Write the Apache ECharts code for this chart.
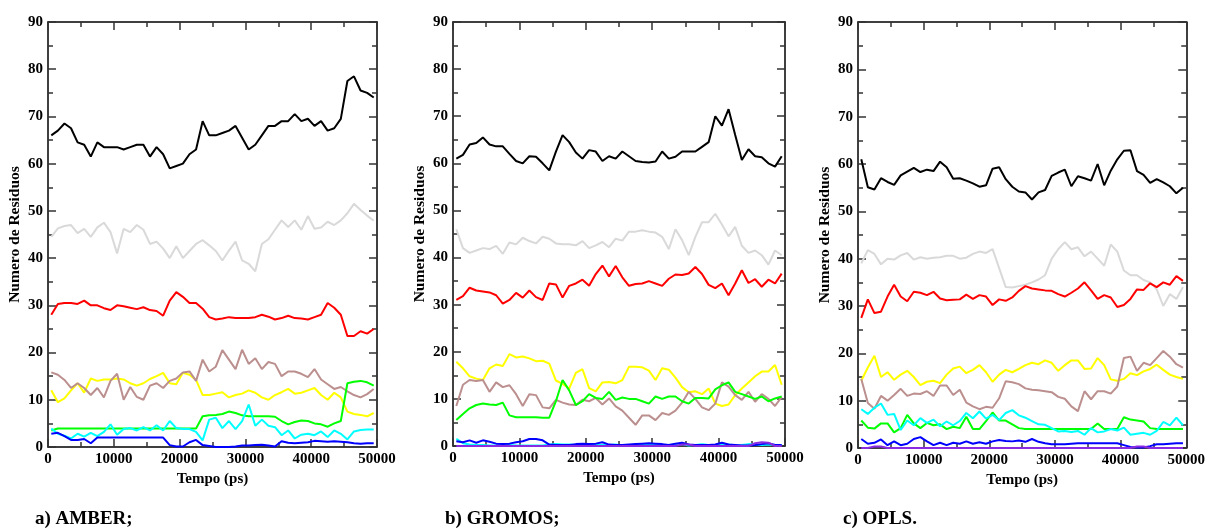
<!DOCTYPE html>
<html>
<head>
<meta charset="utf-8">
<script src="https://cdn.jsdelivr.net/npm/echarts@6/dist/echarts.min.js"></script>
<style>
html,body{margin:0;padding:0;background:#fff;}
#chart{width:1208px;height:531px;}
</style>
</head>
<body>
<div id="chart"></div>
<script>
// ---- time axis (ps) ----
const times = [500,1500,2500,3500,4500,5500,6500,7500,8500,9500,
  10500,11500,12500,13500,14500,15500,16500,17500,18500,19500,
  20500,21500,22500,23500,24500,25500,26500,27500,28500,29500,
  30500,31500,32500,33500,34500,35500,36500,37500,38500,39500,
  40500,41500,42500,43500,44500,45500,46500,47500,48500,49500];

const xTicks = [0,10000,20000,30000,40000,50000];
const yTicks = [0,10,20,30,40,50,60,70,80,90];
const panelTitles = ['a) AMBER;', 'b) GROMOS;', 'c) OPLS.'];

// ---- a) AMBER ----
const amberBlack = [66,67,68.5,67.5,64.5,64,61.5,64.5,63.5,63.5,
  63.5,63,63.5,64,64,61.5,63.5,62,59,59.5,
  60,62,63,69,66,66,66.5,67,68,65.5,
  63,64,66,68,68,69,69,70.5,69,69.5,
  68,69,67,67.5,69.5,77.5,78.5,75.5,75,74];
const amberGray = [44.5,46.3,46.8,47,45.3,46.2,44.5,46.5,47.5,45.5,
  41,46.2,45.5,47,46,43,43.5,42,40,42.5,
  40,41.5,43,43.8,42.7,41.5,39.5,41.6,43.5,39.5,
  38.8,37.2,43,44,46,48,46.6,48,46,48.9,
  46.2,46.5,47.7,47,48,49.5,51.5,50.2,49,47.9];
const amberRed = [28,30.3,30.5,30.5,30.3,31,30,30,29.4,29,
  30,29.8,29.5,29.2,29.6,29,28.8,27.8,31,32.8,
  31.8,30.5,30.5,29.3,27.5,27,27.2,27.5,27.3,27.3,
  27.3,27.5,28,27.6,27,27.3,27.8,27.3,27.2,27,
  27.5,28,30.5,29.5,28,23.5,23.5,24.5,24,25];
const amberYellow = [12,9.5,10.3,12,13.5,11.5,14.5,14,14.3,14.3,
  14.5,14.3,13.5,13,13.5,14.4,15,15.7,13.5,13.3,
  15.7,15.3,14.2,11,11,11.3,11.6,10.5,11,11.3,
  12,11.5,10.5,10,11,11.6,12.3,11.3,11.5,12,
  12.5,11,10,11.5,10.5,7.5,7,6.8,6.5,7.2];
const amberBrown = [15.8,15.3,14.2,12.5,13.5,12.5,11,12.5,10.5,14,
  15.5,10,12.7,10.6,10,13,13.5,12.5,14,14.5,
  15.8,16,14,18.5,16,17,20.5,18.5,16.5,20.6,
  17.6,18.8,16.5,18,17.6,15,16,16,15.5,14.8,
  16.5,14.3,13.3,12.3,12.7,11.8,11,10.5,11.2,12.3];
const amberGreen = [3.5,3.9,3.9,3.9,3.9,3.9,3.9,3.9,3.9,3.9,
  3.9,3.9,3.9,3.9,3.9,3.9,3.9,3.9,3.9,3.9,
  3.9,3.9,3.9,6.5,6.7,6.8,7,7.5,7.2,6.7,
  6.5,6.5,6.5,6.5,6.4,5.5,4.8,5.3,5.6,5.5,
  5,4.8,4.3,5,5.5,13.5,13.8,14,13.7,13];
const amberCyan = [3.9,2.8,2.4,1.8,2.8,2.2,3,2.3,3.2,4.8,
  2.6,3.8,4,3.5,4.2,3.5,4.6,3.5,5.5,4,
  3.8,3.8,3.2,1.4,5.8,6.2,4,5.5,3.8,5.5,
  9,4.5,5.8,4.5,4.2,2.5,3.5,1.8,2.6,2.8,
  2.5,3.3,2.1,3.5,2.8,1.6,3.3,3.6,3.7,3.7];
const amberBlue = [2.8,3,2.3,1.5,1.5,1.7,0.8,2,2,2,
  2,2,2,2,2,2,2,2,0.4,0.1,
  0.1,1,1.5,0.4,0.2,0,0,0,0.1,0.3,
  0.3,0.4,0.5,0.3,0.1,1.2,0.9,0.8,0.9,1,
  1.3,1.2,1.1,1.2,1.1,1,0.8,0.7,0.8,0.8];

// ---- b) GROMOS ----
const gromosBlack = [61,61.8,64,64.3,65.5,64,63.6,63.6,62,60.5,
  60,61.5,61.4,60,58.5,62.5,66,64.5,62.3,61,
  62.8,62.5,60.5,61.5,61,62.5,61.5,60.5,60.3,60.2,
  60.4,62.5,61,61.4,62.5,62.5,62.5,63.5,64.5,70,
  68,71.5,66,60.7,63,61.5,61.3,60,59.3,61.5];
const gromosGray = [46,42,41,41.5,42,41.8,42.5,40.8,43.2,42.8,
  44.2,43.5,43,44.4,44,43,42.8,42.8,42.6,43.5,
  42,42.6,43.3,42.2,44,43.6,45.5,45.5,45.8,45.5,
  45.3,44.4,41.8,46,43.7,40.5,44.4,47.5,47.5,49.3,
  47,44.5,46.5,42.5,41,41.5,40.5,38.5,41.5,40.5];
const gromosRed = [31,31.8,33.6,33,32.8,32.6,32,30.2,31,32.5,
  31.5,33,31.6,31,34.5,34.3,31.5,34,34.5,35.3,
  34,36.5,38.3,36,38.2,35.8,34,34.4,34.5,35,
  34.5,34,35.5,36.4,36.3,36.6,38,36.5,34.2,33.5,
  34.5,32,34.5,37.3,34.6,35.4,33.8,35.3,34.5,36.6];
const gromosYellow = [17.9,16.5,14.8,14.3,14,16.5,17.3,17,19.5,18.8,
  19,18.6,18,18.1,17.5,13.9,13.2,12.2,15.5,16.3,
  12.3,11.6,13.5,13.6,13.3,14,16.8,16.8,16.7,16,
  14,16.5,16.2,14.5,12.5,11.4,11.6,11,12.2,9,
  8.5,8.8,10.8,12.2,13.5,14.8,15.8,15.8,17.2,13];
const gromosBrown = [8.5,13,14,13.8,14,11.5,13.5,12.5,12.9,11,
  8.5,11,10.8,8.2,8,9.8,9.2,8.8,8.7,9.8,
  9.5,10.2,8.8,10.1,8.4,7.5,6,4.5,6.5,6.5,
  5.5,7,6.6,7.5,9.2,11.5,10,8.2,7.6,9,
  13.5,12.6,10.8,9.8,11.5,9.4,11,10,8.5,10.4];
const gromosGreen = [5.5,6.8,8,8.7,9,8.8,8.7,9.2,6.5,6.1,
  6.1,6.1,6.1,6,6,9.5,14,11.8,8.7,9.5,
  11,10.2,10,11.5,9.8,10.3,10,10,9.5,9,
  10.5,10,10.5,10.5,9.5,9,10.2,10.2,10.1,12,
  12.9,13.5,11.5,11,10.5,10,10.5,9.5,10.1,10.5];
const gromosCyan = [1.5,0.6,0.3,0.2,0.2,0.1,0.1,0.1,0.2,0.1,
  0.1,0.1,0.1,0.1,0.3,0.4,0.3,0.3,0.2,0.2,
  0.3,0.2,0.2,0.2,0.3,0.1,0.2,0.1,0.2,0.3,
  0.2,0.1,0.2,0.3,0.4,0.1,0.2,0.4,0.2,0.1,
  0.2,0.3,0.1,0.2,0.4,0.3,0.2,0.3,0.2,0.2];
const gromosBlue = [1,0.8,1.2,0.7,1.2,0.9,0.5,0.4,0.5,0.8,
  1,1.5,1.5,1.2,0.3,0.2,0.2,0.2,0.4,0.5,
  0.4,0.5,0.8,0.3,0.2,0.2,0.3,0.4,0.5,0.6,
  0.5,0.4,0.2,0.5,0.7,0.3,0.2,0.2,0.2,0.3,
  0.7,0.3,0.2,0.1,0.1,0.2,0.4,0.6,0.2,0.2];
const gromosPurple = [0,0,0,0,0,0,0,0,0,0,
  0,0,0,0,0,0,0,0,0,0,
  0,0,0,0,0,0,0,0,0,0,
  0,0,0,0,0.3,0.3,0,0,0,0,
  0,0,0,0,0,0.6,0.8,0.7,0,0];

// ---- c) OPLS ----
const oplsBlack = [61,55.1,54.6,57,56.2,55.6,57.6,58.4,59.2,58.3,
  58.8,58.5,60.5,59.3,56.9,57,56.5,55.9,55.2,55.5,
  59,59.3,56.8,55.2,54.2,54,52.5,54,54.5,57.5,
  58.2,58.8,55.3,57.4,57,56.5,60,55.5,58.6,61,
  62.8,62.9,58.5,57.7,56,56.8,56.1,55.3,53.8,55];
const oplsGray = [39,41.8,41,38.8,40,39.8,40.7,41.2,39.8,40.3,
  40,40.2,40.3,40.6,40.6,40,40.2,41,41.5,41.2,
  42,38,34,33.9,34.2,34.5,35,35.6,36.5,40,
  42,43.5,42,42.4,40.5,41.5,40,38.5,43,41.5,
  37.5,36.5,36.5,35.5,35,33.5,30,32.5,31.5,34];
const oplsRed = [27.5,31.4,28.5,28.8,32,34.5,32,31,33,32.8,
  32.3,33,31.6,31.2,31.3,31.4,32.4,31.5,32.3,32,
  30.2,31.4,31.1,31.8,33.2,34.2,33.7,33.5,33.3,33.2,
  32.5,32,32.8,33.7,35,33.3,31.5,32.3,31.8,29.8,
  30.2,31.5,33.5,33.4,34.8,34,35,34.5,36.3,35.3];
const oplsYellow = [14.2,17,19.5,15,16,14.4,15.5,16.3,15,13.3,
  14,14.2,13.7,15.5,16.8,17.2,15.8,16.5,17.5,16,
  14,15.5,16.5,16,16.7,17.5,18,17.7,18.5,18,
  16.3,17.5,18.5,18.5,16.7,16.8,19,17.5,14.5,14.2,
  14.6,15.8,15.4,16.2,16.7,17.6,16.5,15.5,15,14.6];
const oplsBrown = [14.6,9.5,8.3,11,10,11.2,12.5,11,11.5,11.4,
  12,11,13.2,13.2,11.2,12.3,9.6,8.8,8.2,8.7,
  8.5,10.5,14.1,13.9,13.5,12.6,12.3,12.2,12,11.8,
  10.8,10.4,8.8,7.8,12,10.3,12,12,11.5,13,
  19,19.3,16.3,18,17.5,19,20.5,19.3,17.7,17];
const oplsGreen = [5.8,4.3,4.1,5.2,5.2,3.3,4.2,7,5.2,4.2,
  5.3,4.8,5,4,4.5,4.2,6.6,4,4,5.7,
  7.5,5.8,5.8,5,4.2,4,4,4,4,4,
  4,4,4,4,4,4,5.2,4,4,4,
  6.5,6,5.8,5.6,4.2,4,4,4,4,4];
const oplsCyan = [8.2,7.2,8.5,9.4,7,7.2,3.8,5.8,4.8,6.3,
  5.3,6,4.6,5.6,4.8,5.7,7.4,6.3,7.7,6.2,
  7,5.9,7.4,8,6.9,6.4,5.7,5,4.9,4.2,
  3.5,3.6,3.4,3.6,2.8,4.2,3.3,3.5,4,3.7,
  4.3,2.8,3,3.2,2.8,3.6,5.5,4.8,6.4,4.8];
const oplsBlue = [1.9,0.9,1.1,1.8,0.6,1.4,0.6,0.9,1.9,2.3,
  1.4,0.6,1.1,0.6,1.1,0.9,1.4,0.9,1.2,0.9,
  1.4,1.7,1.5,1.4,1.6,1.3,1.9,1.3,1,0.8,
  0.8,0.8,0.9,1,1,1,1,1,1,1,
  0.6,0.2,0.1,0.1,0.4,0.8,0.8,0.9,1,1];
const oplsPurple = [0,0,0.3,0.3,0,0,0,0,0,0,
  0,0,0,0,0,0,0,0,0,0,
  0,0,0,0,0,0,0,0,0,0,
  0,0,0,0,0,0,0,0,0,0,
  0,0,0.3,0.3,0,0,0,0,0,0];

const seriesColors = {
  black:'#000000', gray:'#d9d9d9', red:'#ff0000', yellow:'#ffff00',
  brown:'#bc8f8f', green:'#00ff00', cyan:'#00ffff', blue:'#0000ff', purple:'#8a2be2'
};

const panels = [
  {black:amberBlack, gray:amberGray, red:amberRed, yellow:amberYellow, brown:amberBrown,
   green:amberGreen, cyan:amberCyan, blue:amberBlue},
  {black:gromosBlack, gray:gromosGray, red:gromosRed, yellow:gromosYellow, brown:gromosBrown,
   green:gromosGreen, cyan:gromosCyan, blue:gromosBlue, purple:gromosPurple},
  {black:oplsBlack, gray:oplsGray, red:oplsRed, yellow:oplsYellow, brown:oplsBrown,
   green:oplsGreen, cyan:oplsCyan, blue:oplsBlue, purple:oplsPurple}
];

const gridPos = [
  {left:48, top:22, width:329, height:425},
  {left:453, top:22, width:332, height:424},
  {left:858, top:22, width:330, height:426}
];
const captionX = [35, 445, 843];

const FONT = '"Liberation Serif","DejaVu Serif",serif';
const tickLbl = {fontFamily:FONT, fontWeight:'bold', fontSize:15, color:'#000'};

const grids = [], xAxes = [], yAxes = [], series = [], graphics = [];
const order = ['black','gray','red','yellow','brown','green','cyan','blue','purple'];

panels.forEach((p, i) => {
  grids.push(Object.assign({containLabel:false}, gridPos[i]));
  const axLine = {show:true, onZero:false, lineStyle:{color:'#000', width:1.5}};
  const tick = {show:true, inside:true, length:8, lineStyle:{color:'#333', width:1.5}};
  const minor = {show:true, splitNumber:2, length:5, lineStyle:{color:'#333', width:1.5}};
  // bottom x
  xAxes.push({gridIndex:i, type:'value', position:'bottom', min:xTicks[0], max:xTicks[xTicks.length-1],
    interval:xTicks[1]-xTicks[0],
    axisLine:axLine, axisTick:tick, minorTick:minor, splitLine:{show:false},
    axisLabel:Object.assign({margin:5, showMinLabel:true, showMaxLabel:true, hideOverlap:false,
      formatter:v => String(v)}, tickLbl),
    name:'Tempo (ps)', nameLocation:'middle', nameGap:21,
    nameTextStyle:{fontFamily:FONT, fontWeight:'bold', fontSize:15, color:'#000'}});
  // top x mirror
  xAxes.push({gridIndex:i, type:'value', position:'top', min:xTicks[0], max:xTicks[xTicks.length-1],
    interval:xTicks[1]-xTicks[0],
    axisLine:axLine, axisTick:tick, minorTick:minor, splitLine:{show:false}, axisLabel:{show:false}});
  // left y
  yAxes.push({gridIndex:i, type:'value', position:'left', min:yTicks[0], max:yTicks[yTicks.length-1],
    interval:yTicks[1]-yTicks[0],
    axisLine:axLine, axisTick:tick, minorTick:minor, splitLine:{show:false},
    axisLabel:Object.assign({margin:5, formatter:v => String(v)}, tickLbl),
    name:'Numero de Residuos', nameLocation:'middle', nameGap:25, nameRotate:90,
    nameTextStyle:{fontFamily:FONT, fontWeight:'bold', fontSize:15.5, color:'#000'}});
  // right y mirror
  yAxes.push({gridIndex:i, type:'value', position:'right', min:yTicks[0], max:yTicks[yTicks.length-1],
    interval:yTicks[1]-yTicks[0],
    axisLine:axLine, axisTick:tick, minorTick:minor, splitLine:{show:false}, axisLabel:{show:false}});

  order.forEach(key => {
    if (!p[key]) return;
    series.push({
      type:'line', xAxisIndex:2*i, yAxisIndex:2*i, showSymbol:false, symbol:'none',
      data: times.map((t, k) => [t, p[key][k]]),
      lineStyle:{color:seriesColors[key], width:2},
      itemStyle:{color:seriesColors[key]},
      silent:true, clip:true
    });
  });

  graphics.push({type:'text', left:captionX[i], top:510,
    style:{text:panelTitles[i], font:'bold 19px ' + FONT, fill:'#000'}});
});

const chart = echarts.init(document.getElementById('chart'), null, {renderer:'canvas'});
chart.setOption({
  animation:false,
  backgroundColor:'#fff',
  grid:grids, xAxis:xAxes, yAxis:yAxes, series:series, graphic:graphics
});
</script>
</body>
</html>
